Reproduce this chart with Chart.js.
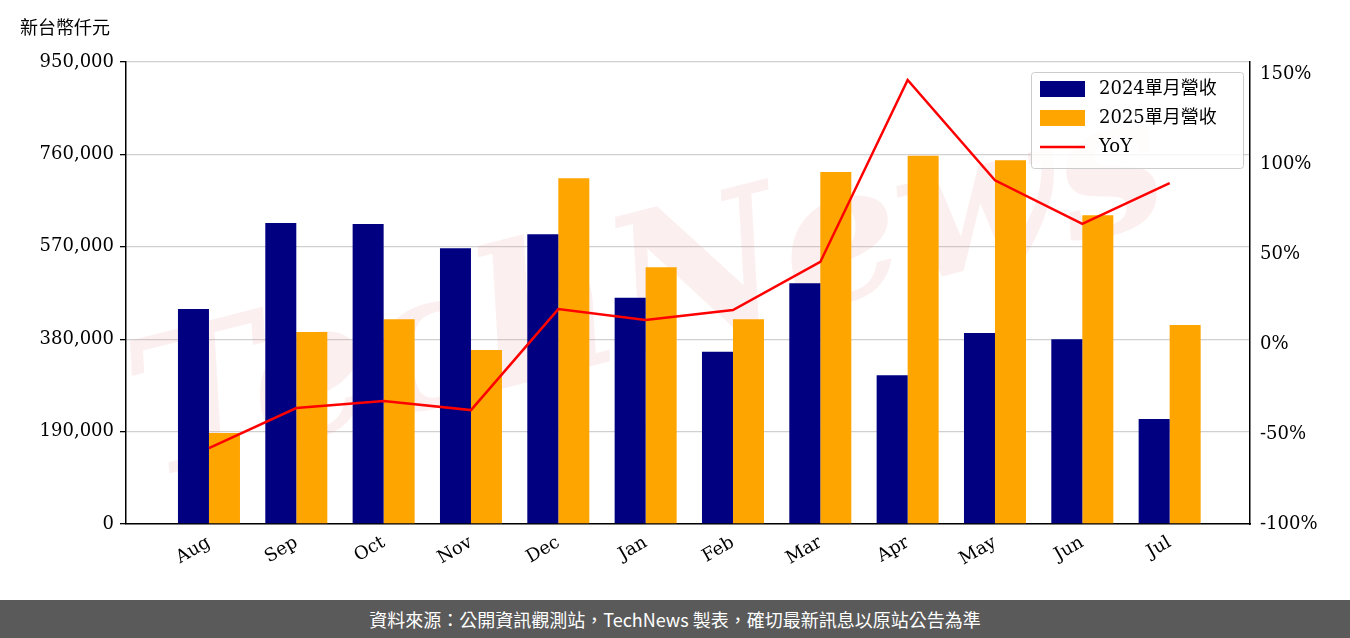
<!DOCTYPE html>
<html><head><meta charset="utf-8">
<script src="https://cdn.jsdelivr.net/npm/chart.js@4"></script>
<style>
body{margin:0;width:1350px;height:638px;background:#fff;overflow:hidden;font-family:"Noto Sans CJK TC";}
#wrap{position:relative;width:1350px;height:600px;}
#unit{position:absolute;left:20px;top:13px;font-size:18px;color:#000;font-family:"Noto Sans CJK TC";}
#foot{position:absolute;left:0;top:600px;width:1350px;height:38px;background:#5a5a5a;color:#fff;font-size:18px;text-align:center;line-height:38px;font-family:"Noto Sans CJK TC";}
</style></head><body>
<div id="wrap"><canvas id="c" width="1350" height="600"></canvas><div id="unit">新台幣仟元</div></div>
<div id="foot">資料來源：公開資訊觀測站，TechNews 製表，確切最新訊息以原站公告為準</div>
<script>
const categories=["Aug","Sep","Oct","Nov","Dec","Jan","Feb","Mar","Apr","May","Jun","Jul"];
const rev2024=[442000,619000,617000,567000,596000,465000,354000,495000,306000,393000,380000,216000];
const rev2025=[187000,395000,421000,358000,711000,528000,421000,724000,757000,748000,635000,409000];
const yoy=[-57.8,-35.6,-31.7,-36.7,19.4,13.3,18.9,45.6,146.7,91,66.7,89.4];
const leftTicks=[0,190000,380000,570000,760000,950000];
const rightTicks=[-100,-50,0,50,100,150];
const serif="DejaVu Serif";
const pts=a=>a.map((v,i)=>({x:i,y:v}));
const legendPlugin={id:'lg',afterDraw(ch){const c=ch.ctx;const x=1031,y=72,w=212,h=96;
c.save();c.fillStyle='rgba(255,255,255,0.8)';c.strokeStyle='#ccc';c.lineWidth=1;
c.beginPath();c.roundRect(x+.5,y+.5,w,h,3);c.fill();c.stroke();
const items=[["2024單月營收","#000080","bar"],["2025單月營收","#FFA500","bar"],["YoY","#FF0000","line"]];
c.font='18px "'+serif+'", "Noto Sans CJK TC"';c.textBaseline='middle';
items.forEach((it,i)=>{const yy=y+17+i*29;
if(it[2]=="bar"){c.fillStyle=it[1];c.fillRect(x+9,yy-8,45,16);}else{c.strokeStyle=it[1];c.lineWidth=2.5;c.beginPath();c.moveTo(x+9,yy);c.lineTo(x+54,yy);c.stroke();}
c.fillStyle='#000';c.fillText(it[0],x+68,yy);});c.restore();}};
const wmPlugin={id:'wm',beforeDatasetsDraw(ch){const c=ch.ctx;c.save();c.translate(650,300);c.rotate(-0.25);
c.font='bold italic 190px "DejaVu Serif"';c.fillStyle='rgba(230,130,130,0.13)';c.textAlign='center';c.textBaseline='middle';c.fillText('TechNews',0,0);c.restore();}};
new Chart(document.getElementById('c'),{
data:{datasets:[
{type:'line',data:pts(yoy),yAxisID:'y1',borderColor:'#FF0000',borderWidth:2.5,pointRadius:0,order:0,tension:0},
{type:'bar',data:pts(rev2024),backgroundColor:'#000080',yAxisID:'y',categoryPercentage:0.71,barPercentage:1,order:1},
{type:'bar',data:pts(rev2025),backgroundColor:'#FFA500',yAxisID:'y',categoryPercentage:0.71,barPercentage:1,order:1}]},
options:{responsive:false,animation:false,layout:{padding:{top:62,left:0,right:0,bottom:0}},
plugins:{legend:{display:false},tooltip:{enabled:false}},
scales:{
x:{type:'linear',min:-0.95,max:11.92,offset:false,afterFit(a){a.height=76;},
afterBuildTicks(a){a.ticks=categories.map((c,i)=>({value:i}));},
grid:{display:false,drawTicks:true,tickLength:6,tickColor:'#000'},border:{color:'#000',width:1.5},
ticks:{color:'#000',font:{family:serif,size:18},maxRotation:30,minRotation:30,padding:2,autoSkip:false,callback:v=>categories[v]}},
y:{position:'left',min:0,max:950000,afterFit(a){a.width=126;},
afterBuildTicks(a){a.ticks=leftTicks.map(v=>({value:v}));},
grid:{color:'#d0d0d0',lineWidth:1.3,drawTicks:true,tickLength:6,tickColor:'#000'},border:{color:'#000',width:1.5},
ticks:{color:'#000',font:{family:serif,size:18},padding:6,callback:v=>v.toLocaleString('en-US')}},
y1:{position:'right',min:-100,max:156.7,afterFit(a){a.width=100;},
afterBuildTicks(a){a.ticks=rightTicks.map(v=>({value:v}));},
grid:{display:false,drawTicks:true,tickLength:6,tickColor:'#000'},border:{color:'#000',width:1.5},
ticks:{color:'#000',font:{family:serif,size:18},padding:4,callback:v=>v+'%'}}}},
plugins:[wmPlugin,legendPlugin]});
</script></body></html>
